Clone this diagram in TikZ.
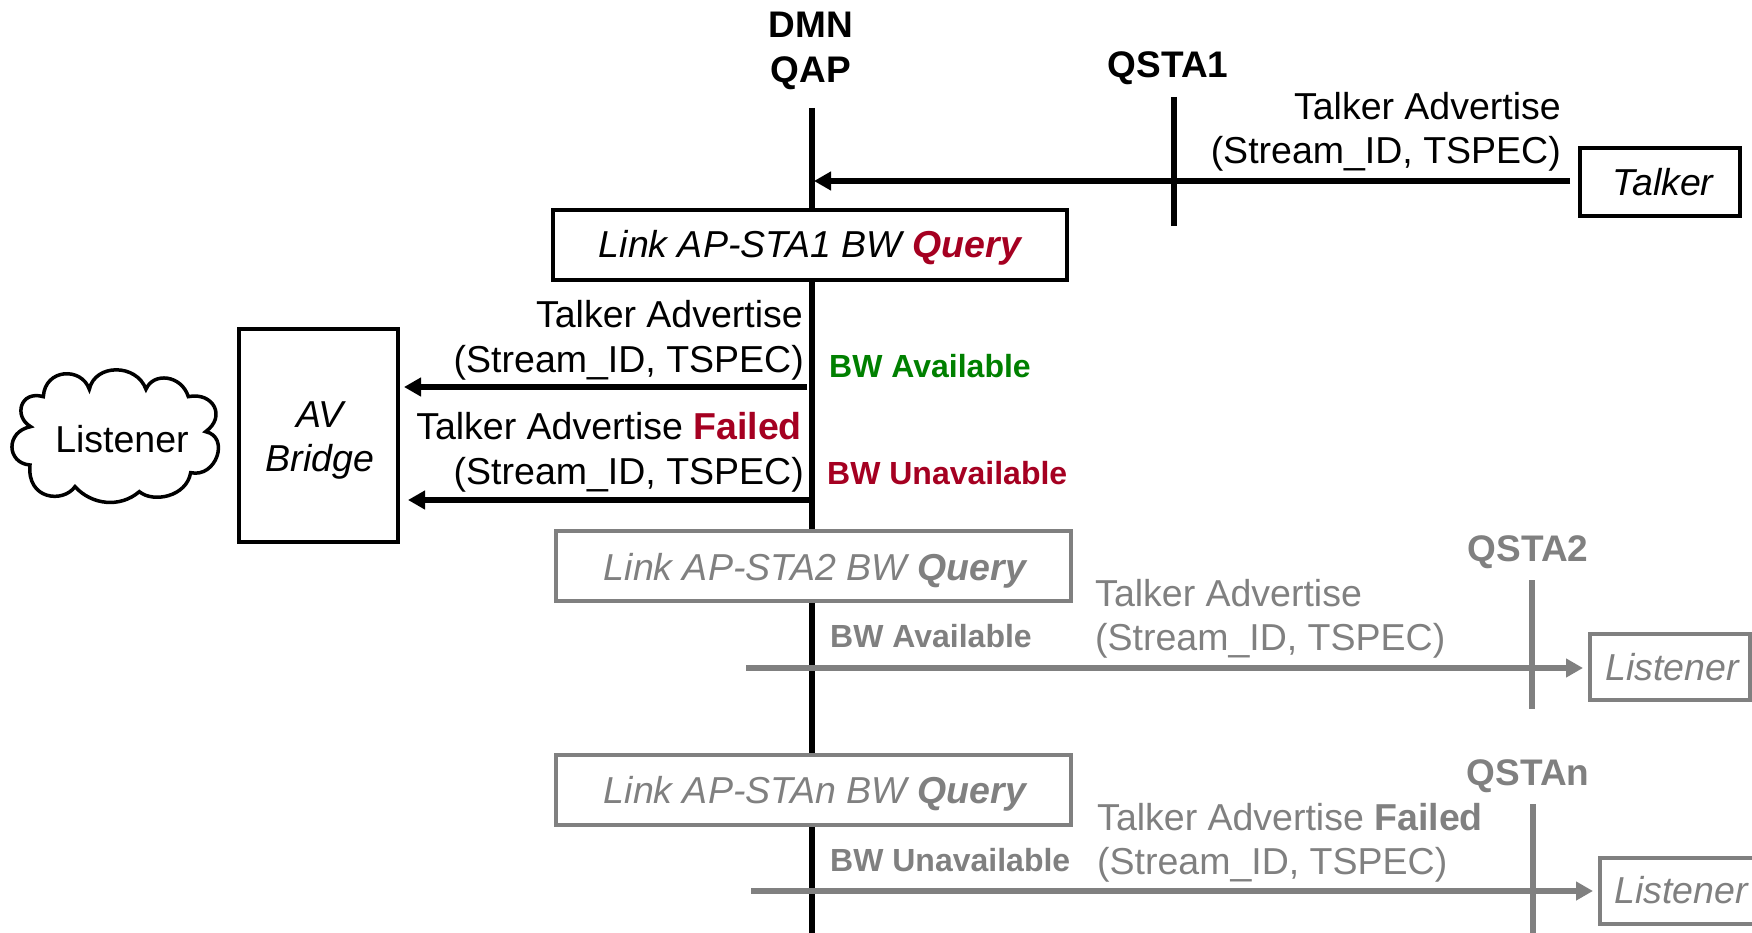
\documentclass[tikz,border=0pt]{standalone}
\usepackage{fontspec}
\setmainfont{Liberation Sans}
\usetikzlibrary{arrows.meta}
\definecolor{gr}{HTML}{808080}
\definecolor{rd}{HTML}{A50021}
\definecolor{grn}{HTML}{008000}
\newcommand{\fs}{\fontsize{37.5}{45}\selectfont}
\newcommand{\fh}{\fontsize{37}{45}\selectfont\bfseries}
\newcommand{\fb}{\fontsize{32}{38}\selectfont\bfseries}
\newcommand{\red}[1]{\textbf{\textcolor{rd}{#1}}}
\tikzset{
 x=1pt,y=-1pt,
 txt/.style={inner sep=0pt,font=\fs},
 head/.style={inner sep=0pt,font=\fh,align=center},
 small/.style={inner sep=0pt,font=\fb,anchor=base west},
 life/.style={line width=5.5pt},
 msg/.style={line width=5.5pt,-{Triangle[length=17pt,width=18pt]}},
 boxb/.style={draw,line width=4pt,fill=white,inner sep=0pt,font=\fs\itshape,align=center},
 fade/.style={draw=gr,text=gr},
 faded/.style={text=gr},
}
\begin{document}
\begin{tikzpicture}
\useasboundingbox (0,0) rectangle (1752,933);
% lifelines
\coordinate (qaptop) at (812,108); \coordinate (qapbot) at (812,933);
\coordinate (s1top) at (1174,97); \coordinate (s1bot) at (1174,226);
\coordinate (s2top) at (1532,580); \coordinate (s2bot) at (1532,709);
\coordinate (sntop) at (1533,804); \coordinate (snbot) at (1533,933);
\draw[life] (qaptop) -- (qapbot);
\draw[life] (s1top) -- (s1bot);
\draw[life,gr] (s2top) -- (s2bot);
\draw[life,gr] (sntop) -- (snbot);
% headers
\node[head,anchor=base] (dmn) at (811,38) {DMN};
\node[head,anchor=base] (qap) at (811,83) {QAP};
\node[head,anchor=base] (qsta1) at (1168,78) {QSTA1};
\node[head,anchor=base,text=gr] (qsta2) at (1528,561) {QSTA2};
\node[head,anchor=base,text=gr] (qstan) at (1528,785) {QSTAn};
% boxes
\node[boxb,minimum width=160pt,minimum height=68pt] (talker) at (1660,182.5) {};
\node[txt,anchor=base,font=\fs\itshape] (talkert) at (1663,196) {Talker};
\node[boxb,minimum width=514pt,minimum height=70pt] (q1) at (810,245) {};
\node[txt,anchor=base,font=\fs\itshape] (q1t) at (810,258) {Link AP-STA1 BW \red{Query}};
\node[boxb,minimum width=159pt,minimum height=213pt] (av) at (318.5,435) {};
\node[txt,anchor=base,font=\fs\itshape] (av1) at (320,427) {AV};
\node[txt,anchor=base,font=\fs\itshape] (av2) at (320,471) {Bridge};
\node[boxb,fade,minimum width=515pt,minimum height=70pt] (q2) at (813.5,566) {};
\node[txt,anchor=base,font=\fs\itshape,faded] (q2t) at (815,580) {Link AP-STA2 BW \textbf{Query}};
\node[boxb,fade,minimum width=515pt,minimum height=70pt] (q3) at (813.5,790) {};
\node[txt,anchor=base,font=\fs\itshape,faded] (q3t) at (815,803) {Link AP-STAn BW \textbf{Query}};
\node[boxb,fade,minimum width=160pt,minimum height=66pt] (l2) at (1670,666.5) {};
\node[txt,anchor=base,font=\fs\itshape,faded] (l2t) at (1672,680) {Listener};
\node[boxb,fade,minimum width=180pt,minimum height=66pt] (l3) at (1690,890.5) {};
\node[txt,anchor=base,font=\fs\itshape,faded] (l3t) at (1681,903) {Listener};
% message labels
\node[txt,anchor=base east] (m1a) at (1561,120) {Talker Advertise};
\node[txt,anchor=base east] (m1b) at (1561,164) {(Stream\_ID, TSPEC)};
\node[txt,anchor=base east] (m2a) at (803,327) {Talker Advertise};
\node[txt,anchor=base east] (m2b) at (804,372) {(Stream\_ID, TSPEC)};
\node[txt,anchor=base east] (m3a) at (802,439) {Talker Advertise \red{Failed}};
\node[txt,anchor=base east] (m3b) at (804,484) {(Stream\_ID, TSPEC)};
\node[txt,anchor=base west,faded] (m4a) at (1095,606) {Talker Advertise};
\node[txt,anchor=base west,faded] (m4b) at (1095,650) {(Stream\_ID, TSPEC)};
\node[txt,anchor=base west,faded] (m5a) at (1097,830) {Talker Advertise \textbf{Failed}};
\node[txt,anchor=base west,faded] (m5b) at (1097,874) {(Stream\_ID, TSPEC)};
\node[small,text=grn] (b1) at (829,377) {BW Available};
\node[small,text=rd] (b2) at (827,484) {BW Unavailable};
\node[small,text=gr] (b3) at (830,647) {BW Available};
\node[small,text=gr] (b4) at (830,871) {BW Unavailable};
% arrows
\coordinate (a1s) at (1570,181); \coordinate (a1e) at (814,181);
\coordinate (a2s) at (807,387); \coordinate (a2e) at (404,387);
\coordinate (a3s) at (812,500); \coordinate (a3e) at (408,500);
\coordinate (a4s) at (746,668); \coordinate (a4e) at (1583,668);
\coordinate (a5s) at (751,891); \coordinate (a5e) at (1593,891);
\draw[msg] (a1s) -- (a1e);
\draw[msg] (a2s) -- (a2e);
\draw[msg] (a3s) -- (a3e);
\draw[msg,gr] (a4s) -- (a4e);
\draw[msg,gr] (a5s) -- (a5e);
% cloud
\begin{scope}[shift={(0,300)},x=0.3333pt,y=-0.3333pt]
\draw[line width=3.5pt] (130,290)
 .. controls (135,205) and (245,200) .. (268,268)
 .. controls (285,190) and (410,190) .. (438,268)
 .. controls (460,215) and (545,225) .. (565,290)
 .. controls (640,275) and (680,350) .. (617,395)
 .. controls (690,410) and (650,535) .. (572,518)
 .. controls (560,590) and (460,610) .. (418,575)
 .. controls (360,625) and (275,615) .. (225,560)
 .. controls (190,610) and (80,600) .. (90,495)
 .. controls (20,490) and (15,395) .. (92,380)
 .. controls (40,350) and (60,270) .. (130,290) -- cycle;
\end{scope}
\node[txt,anchor=base] (cloud) at (122,452) {Listener};
\end{tikzpicture}
\end{document}
